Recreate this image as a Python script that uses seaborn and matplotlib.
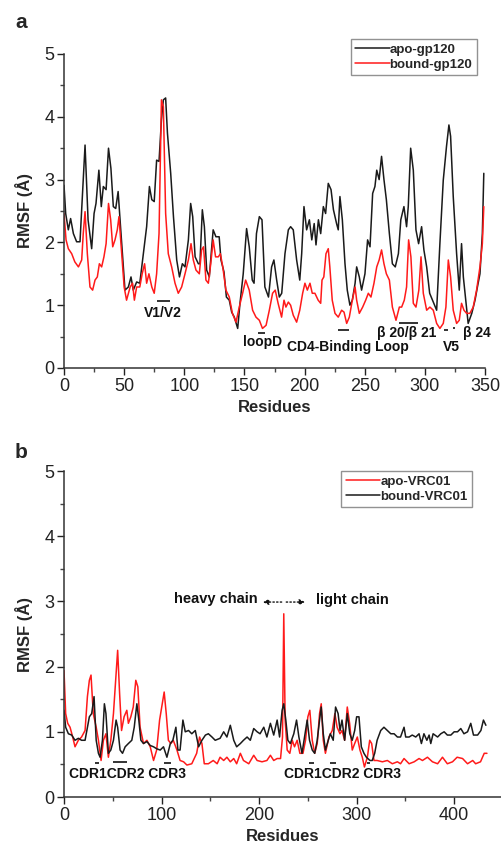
import numpy as np
import pandas as pd
import matplotlib
matplotlib.use("Agg")
import matplotlib.pyplot as plt
import seaborn as sns

# ---------------- data: panel a (gp120) ----------------
apo_gp120_x = [0, 1.4, 3.6, 5.5, 7.8, 10.5, 13.3, 17.5, 20, 23, 25, 26.6, 29, 31, 32.7, 35, 37, 39, 41, 43, 45, 47,
               50.7, 53.5, 55.7, 57.6, 60.4, 63, 66, 68.7, 71, 73, 75, 77, 79, 81, 82.6, 84.5, 86, 88.7, 91, 93.7,
               96, 98.4, 100.6, 103.4, 105.3, 107, 109, 111.7, 113, 115, 116.7, 118.6, 120.8, 124, 126.3, 129,
               130.5, 133, 135, 137.4, 139.4, 141.6, 144.4, 146.3, 149, 151.8, 154, 156.5, 158, 160, 162.4, 164.6,
               167, 170, 172.6, 174.5, 176.8, 179, 181, 183.7, 186.5, 188.4, 190.6, 193.4, 196, 197.6, 199.5, 201.7,
               204, 206, 208, 209.5, 211.5, 213.4, 215.6, 217.5, 219.7, 222, 224, 226.6, 228, 229.4, 231.4, 233.6,
               235.5, 237.7, 239.7, 242, 243.3, 245.5, 247.4, 250.2, 252.4, 254.4, 256.6, 258.5, 260, 262, 264, 266,
               268, 270.5, 273, 275.4, 278, 280, 282.6, 284.8, 286.2, 288.2, 290.4, 292.6, 294.8, 297.3, 299.2,
               301.5, 304, 307, 309.8, 312.5, 315.3, 318, 320, 321.4, 323.6, 326.4, 328.6, 330.5, 332, 334, 336,
               339, 341.7, 343.7, 345.8, 347.8, 349]
apo_gp120_y = [2.91, 2.46, 2.2, 2.38, 2.14, 2.01, 2.01, 3.55, 2.36, 1.9, 2.46, 2.62, 3.15, 2.57, 2.89, 2.84, 3.5, 3.18,
               2.57, 2.54, 2.81, 2.25, 1.24, 1.29, 1.45, 1.24, 1.37, 1.35, 1.82, 2.25, 2.89, 2.68, 2.65, 3.31, 3.29,
               3.95, 4.27, 4.3, 3.74, 3.1, 2.41, 1.72, 1.45, 1.66, 1.61, 2.04, 2.62, 2.41, 1.77, 1.66, 1.66, 2.52,
               2.25, 1.56, 1.45, 2.2, 2.09, 2.09, 1.72, 1.53, 1.13, 1.08, 0.89, 0.81, 0.63, 1.03, 1.5, 2.22, 1.93,
               1.4, 1.35, 2.14, 2.41, 2.36, 1.29, 1.13, 1.61, 1.72, 1.4, 1.13, 1.19, 1.82, 2.2, 2.25, 2.2, 1.72, 1.4,
               1.82, 2.57, 2.2, 2.36, 2.04, 2.3, 1.96, 2.36, 2.14, 2.57, 2.46, 2.94, 2.84, 2.52, 2.3, 2.2, 2.73, 2.36,
               1.66, 1.24, 1.0, 1.08, 1.35, 1.61, 1.45, 1.24, 1.5, 2.04, 1.93, 2.78, 2.89, 3.15, 3.0, 3.37, 3.0,
               2.68, 2.14, 1.66, 1.61, 1.82, 2.36, 2.57, 2.25, 2.57, 3.5, 3.15, 2.2, 1.98, 2.25, 1.88, 1.61, 1.19,
               1.05, 0.92, 1.98, 2.99, 3.53, 3.87, 3.69, 2.73, 1.82, 1.24, 1.98, 1.45, 1.08, 0.71, 0.87, 1.08, 1.29,
               1.5, 2.14, 3.1]

bound_gp120_x = [0, 1.7, 3.6, 6.4, 9, 12, 14.7, 16, 17.5, 19.4, 21.6, 23.8, 25.8, 27.7, 29.4, 31.3, 33.2, 35, 37, 38.8,
                 40.5, 42.4, 44.3, 45.7, 48, 50, 52, 55, 57, 58.5, 60.4, 63, 65, 67, 68.7, 70.6, 73, 75, 77, 79, 81,
                 82.6, 84.5, 86.7, 89.5, 92.3, 95, 97.8, 100.6, 103.4, 105.6, 107.5, 109.7, 112.5, 114.4, 116, 118,
                 120, 122, 124, 126, 128.3, 130, 132, 134.6, 137.4, 140, 143, 145.7, 148.5, 151, 154, 156.8, 159.6,
                 162.4, 165, 168, 170.7, 173.4, 175.6, 178, 180.9, 182.9, 184.5, 186.5, 188.4, 190.6, 193.4, 196,
                 198.4, 200.3, 202.3, 204.5, 206.4, 208.6, 211.3, 213.4, 214.5, 216, 217.8, 219.7, 221, 223, 225.3,
                 228, 230.8, 232.8, 235, 237.2, 239.7, 242, 243.3, 245.5, 248.3, 250.8, 253, 255.2, 257.7, 260, 262,
                 264, 266, 268, 270.5, 273, 276, 278.8, 280.7, 282.9, 284.8, 286.5, 288.4, 290.4, 292.6, 295, 296.8,
                 298.7, 301.5, 304.2, 307, 309.8, 312.5, 315.3, 317.5, 319.5, 321.4, 323.6, 326.4, 328.6, 330.5,
                 332.5, 334.7, 337.4, 340.2, 343, 345.8, 347.8, 349]
bound_gp120_y = [2.46, 2.04, 1.9, 1.82, 1.69, 1.61, 1.72, 2.14, 2.49, 1.82, 1.29, 1.24, 1.4, 1.45, 1.66, 1.61, 1.77,
                 1.98, 2.62, 2.36, 1.93, 2.04, 2.2, 2.41, 1.82, 1.29, 1.08, 1.29, 1.35, 1.08, 1.29, 1.29, 1.5, 1.66,
                 1.35, 1.5, 1.29, 1.19, 1.5, 2.14, 4.27, 4.16, 2.46, 1.82, 1.61, 1.35, 1.19, 1.29, 1.5, 1.72, 1.98,
                 1.72, 1.56, 1.5, 1.88, 1.93, 1.4, 1.35, 1.66, 2.04, 1.77, 1.77, 1.82, 1.61, 1.24, 1.13, 0.87, 0.73,
                 0.97, 1.19, 1.4, 1.24, 0.92, 0.81, 0.76, 0.63, 0.68, 0.92, 1.19, 1.24, 1.03, 0.81, 1.08, 0.97, 1.05,
                 1.0, 0.84, 0.73, 0.92, 1.19, 1.35, 1.24, 1.35, 1.19, 1.19, 1.08, 1.03, 1.4, 1.45, 1.82, 1.9, 1.61,
                 1.08, 0.87, 0.81, 0.92, 0.89, 0.71, 0.81, 1.08, 1.29, 1.08, 0.87, 0.97, 1.08, 1.19, 1.13, 1.35, 1.61,
                 1.72, 1.88, 1.66, 1.5, 1.4, 0.97, 0.76, 0.97, 0.97, 1.08, 1.29, 2.04, 1.77, 1.03, 0.97, 1.24, 1.77,
                 1.19, 0.92, 0.97, 0.92, 0.71, 0.63, 0.71, 0.97, 1.72, 1.45, 0.92, 0.71, 0.76, 1.03, 0.92, 0.87, 0.87,
                 0.97, 1.24, 1.61, 1.98, 2.57]

# ---------------- data: panel b (VRC01) ----------------
apo_vrc01_x = [0, 1.7, 3.8, 6.2, 8.9, 11.3, 14.7, 18, 21.6, 24, 26, 27.7, 30, 33, 35.3, 38, 40.4, 43, 45.5, 48, 50.7,
               53.4, 55, 57, 59, 61.6, 64.4, 66, 68.5, 71, 73.6, 75.7, 78, 81.5, 85, 88.4, 91.8, 95, 98, 100.7, 102.7,
               104.8, 107, 109.6, 112, 115.8, 119, 122.6, 126, 131, 136, 139, 141.4, 143.8, 148, 153, 157, 160,
               163.7, 167, 170.5, 174, 177, 180.8, 184, 189.4, 194.5, 198, 203, 208, 211.6, 215, 218.5, 222, 224,
               225.3, 226.7, 228.8, 231.5, 234, 236.3, 239, 241.8, 245, 247.6, 250, 252, 254.5, 257, 259.6, 262,
               263.7, 265.8, 268, 271.6, 275, 277.7, 280, 282.9, 285, 287.7, 290.4, 292.8, 295.5, 298, 300.7, 303.4,
               305.8, 308, 311, 313.4, 315.4, 317.8, 321, 326.4, 331.5, 336.6, 341.8, 345, 348.6, 353.8, 359, 364,
               367.5, 372.6, 377.7, 383, 388, 393, 398.3, 403, 408.6, 413.7, 419, 422, 427, 430.8, 433.6]
apo_vrc01_y = [1.94, 1.28, 1.13, 1.07, 0.92, 0.77, 0.87, 0.92, 1.02, 1.54, 1.79, 1.87, 1.28, 1.07, 0.87, 0.56, 0.87,
               0.97, 0.61, 0.87, 1.28, 1.89, 2.25, 1.59, 1.02, 1.23, 1.33, 1.13, 1.23, 1.38, 1.79, 1.69, 1.07, 0.82,
               0.87, 0.77, 0.56, 0.72, 1.18, 1.43, 1.61, 1.28, 0.87, 0.82, 0.87, 0.72, 0.56, 0.54, 0.49, 0.51, 0.67,
               0.92, 0.82, 0.51, 0.51, 0.56, 0.51, 0.61, 0.56, 0.61, 0.54, 0.59, 0.51, 0.67, 0.56, 0.51, 0.64, 0.56,
               0.54, 0.56, 0.64, 0.56, 0.59, 0.59, 0.92, 2.81, 1.18, 0.72, 0.67, 0.87, 0.77, 0.87, 0.67, 0.67, 0.87,
               1.23, 1.33, 0.87, 0.67, 0.82, 1.28, 1.43, 0.87, 0.67, 0.92, 1.02, 1.28, 1.07, 0.97, 1.02, 0.87, 1.38,
               1.13, 0.72, 0.82, 0.92, 0.72, 0.61, 0.46, 0.61, 0.87, 0.82, 0.56, 0.56, 0.54, 0.56, 0.51, 0.54, 0.51,
               0.59, 0.51, 0.54, 0.59, 0.56, 0.61, 0.54, 0.51, 0.61, 0.51, 0.54, 0.61, 0.59, 0.51, 0.56, 0.51, 0.54,
               0.67, 0.67]

bound_vrc01_x = [0, 1.7, 4.5, 7.9, 11.3, 14.7, 18, 21.6, 24, 26, 28.4, 30.8, 33, 35.3, 37, 39.4, 41.4, 43, 45.5, 48,
                 50.7, 53.4, 55, 57.5, 60, 62.7, 66, 69.5, 72, 74.7, 76.7, 78.8, 81.5, 85, 88.4, 91.8, 95, 98.6, 102,
                 105.5, 109, 111.6, 114.7, 116.8, 119, 121.9, 124.3, 127.7, 131, 134.6, 138, 141.4, 145, 148, 151.7,
                 155, 160, 163.7, 167, 170.5, 174, 177, 180.8, 184, 187.7, 191, 194.5, 198, 201, 204.8, 208, 211.6,
                 215, 218.5, 221, 223.6, 225.3, 227.4, 229.5, 232, 235.6, 238.4, 240.8, 244, 246.6, 249.3, 251.7,
                 254.5, 257, 259.6, 262, 263.7, 265.8, 268, 270.9, 273, 276, 278.4, 281, 283, 285, 287.7, 290.4, 293,
                 295.5, 298, 300, 302.4, 304.8, 307.5, 310, 313.7, 316, 318.5, 321, 324.7, 328, 331.5, 335, 338.4,
                 341.8, 345, 348.6, 350.3, 353.8, 357, 360.6, 364, 366.4, 369, 372, 374.3, 376, 378.4, 383, 386.3,
                 389.7, 393, 396.6, 400, 403.4, 406.8, 410, 413.7, 417, 419.8, 424, 427.4, 430, 432.5]
bound_vrc01_y = [1.33, 1.07, 0.97, 0.95, 0.87, 0.9, 0.87, 0.87, 1.07, 1.23, 1.28, 1.54, 0.87, 0.67, 0.61, 0.87, 1.43,
                 1.28, 0.67, 0.72, 0.87, 1.18, 1.07, 0.72, 0.67, 0.77, 0.82, 0.87, 1.07, 1.43, 1.18, 0.87, 0.82, 0.85,
                 0.79, 0.77, 0.74, 0.72, 0.77, 0.61, 0.82, 0.87, 1.07, 0.72, 0.72, 1.18, 1.0, 1.02, 0.97, 1.02, 0.77,
                 0.87, 0.95, 0.97, 0.92, 0.87, 0.9, 1.0, 0.92, 1.1, 0.87, 0.77, 0.82, 0.87, 0.92, 0.87, 1.05, 1.0,
                 0.97, 1.07, 0.92, 1.13, 0.95, 1.18, 0.92, 1.33, 1.43, 1.18, 0.87, 0.82, 0.97, 1.18, 0.92, 0.67, 0.92,
                 1.18, 0.87, 0.72, 0.67, 0.87, 1.18, 1.38, 0.97, 0.72, 0.87, 0.97, 0.87, 1.38, 1.28, 1.02, 1.18, 0.87,
                 1.28, 0.97, 0.87, 1.02, 1.23, 1.23, 0.77, 0.67, 0.61, 0.56, 0.56, 0.67, 0.87, 1.02, 1.07, 1.02, 0.97,
                 0.97, 0.92, 0.92, 1.07, 0.92, 0.92, 0.95, 0.92, 0.97, 0.82, 0.97, 0.87, 0.95, 0.82, 0.97, 0.92, 0.97,
                 1.0, 0.95, 0.95, 1.0, 1.0, 1.05, 0.97, 1.0, 1.13, 0.95, 0.95, 1.02, 1.18, 1.1]

labels_a = ["apo-gp120", "bound-gp120"]
labels_b = ["apo-VRC01", "bound-VRC01"]
x_ticks_a = [0, 50, 100, 150, 200, 250, 300, 350]
x_ticks_b = [0, 100, 200, 300, 400]
y_ticks = [0, 1, 2, 3, 4, 5]

df_a = pd.concat([
    pd.DataFrame({"Residues": apo_gp120_x, "RMSF": apo_gp120_y, "series": labels_a[0]}),
    pd.DataFrame({"Residues": bound_gp120_x, "RMSF": bound_gp120_y, "series": labels_a[1]}),
], ignore_index=True)
df_b = pd.concat([
    pd.DataFrame({"Residues": apo_vrc01_x, "RMSF": apo_vrc01_y, "series": labels_b[0]}),
    pd.DataFrame({"Residues": bound_vrc01_x, "RMSF": bound_vrc01_y, "series": labels_b[1]}),
], ignore_index=True)

sns.set_style("ticks")
plt.rcParams["font.family"] = ["Liberation Sans", "DejaVu Sans"]

W, H = 502, 846
fig = plt.figure(figsize=(W / 100, H / 100), dpi=100)
ax_a = fig.add_axes([64 / W, 1 - 368 / H, (485 - 64) / W, (368 - 54) / H])
ax_b = fig.add_axes([64 / W, 1 - 797 / H, (501 - 64) / W, (797 - 471) / H])

sns.lineplot(data=df_a, x="Residues", y="RMSF", hue="series", hue_order=labels_a,
             palette={labels_a[0]: "#1a1a1a", labels_a[1]: "#ff1a1a"}, linewidth=1.1,
             sort=False, ax=ax_a, estimator=None)
sns.lineplot(data=df_b, x="Residues", y="RMSF", hue="series", hue_order=labels_b,
             palette={labels_b[0]: "#ff1a1a", labels_b[1]: "#1a1a1a"}, linewidth=1.1,
             sort=False, ax=ax_b, estimator=None)

for ax, xl, xt, minor in [(ax_a, (0, 350), x_ticks_a, 25), (ax_b, (0, 448), x_ticks_b, 50)]:
    ax.set_xlim(*xl)
    ax.set_ylim(0, 5)
    ax.set_xticks(xt)
    ax.set_yticks(y_ticks)
    ax.set_xticks(np.arange(xl[0] + minor, xl[1] + 1, minor * 2), minor=True)
    ax.set_yticks(np.arange(0.5, 5, 1.0), minor=True)
    ax.tick_params(which="major", direction="out", length=5, width=1, labelsize=13, colors="#222222", pad=2)
    ax.tick_params(which="minor", direction="out", length=3, width=1, colors="#444444")
    for s in ["top", "right"]:
        ax.spines[s].set_visible(False)
    for s in ["left", "bottom"]:
        ax.spines[s].set_color("#333333")
        ax.spines[s].set_linewidth(1.1)
    ax.set_xlabel("Residues", fontsize=12, fontweight="bold", labelpad=4)
    ax.set_ylabel("RMSF (Å)", fontsize=12, fontweight="bold", labelpad=8)

for ax, anchor in [(ax_a, (477 / W, 1 - 39 / H)), (ax_b, (472 / W, 1 - 471 / H))]:
    leg = ax.legend(loc="upper right", bbox_to_anchor=anchor, bbox_transform=fig.transFigure,
                    prop={"weight": "bold", "size": 9.5}, handlelength=2.6, handletextpad=0.0,
                    frameon=True, fancybox=False, borderpad=0.35, labelspacing=0.2,
                    borderaxespad=0)
    leg.get_frame().set_edgecolor("#777777")
    leg.get_frame().set_linewidth(1.0)
    for line in leg.get_lines():
        line.set_linewidth(1.1)

fig.text(15 / W, 1 - 22 / H, "a", fontsize=15, fontweight="bold", va="center", ha="left")
fig.text(15 / W, 1 - 452 / H, "b", fontsize=15, fontweight="bold", va="center", ha="left")

ann = dict(fontsize=10, fontweight="bold", color="#111111")
# panel a annotations
ax_a.text(82, 0.88, "V1/V2", ha="center", va="center", **ann)
ax_a.text(165, 0.41, "loopD", ha="center", va="center", **ann)
ax_a.text(236, 0.33, "CD4-Binding Loop", ha="center", va="center", **ann)
ax_a.text(285, 0.56, "β 20/β 21", ha="center", va="center", **ann)
ax_a.text(343, 0.56, "β 24", ha="center", va="center", **ann)
ax_a.text(322, 0.33, "V5", ha="center", va="center", **ann)
bar_kw = dict(color="#111111", linewidth=1.2)
ax_a.hlines(1.06, 77.5, 88.5, **bar_kw)
ax_a.hlines(0.55, 161.5, 167.5, **bar_kw)
ax_a.hlines(0.61, 227.5, 237, **bar_kw)
ax_a.hlines(0.72, 278.5, 294, **bar_kw)
ax_a.hlines(0.60, 316, 319.5, **bar_kw)
ax_a.hlines(0.63, 323, 325, **bar_kw)

# panel b annotations
ann_b = dict(fontsize=10.5, fontweight="bold", color="#111111")
ax_b.text(198, 3.04, "heavy chain", ha="right", va="center", **ann_b)
ax_b.text(258, 3.02, "light chain", ha="left", va="center", **ann_b)
ax_b.annotate("", xy=(201, 2.99), xytext=(226, 2.99),
              arrowprops=dict(arrowstyle="-|>", linestyle=":", color="#111111", lw=1, mutation_scale=8))
ax_b.annotate("", xy=(250, 2.99), xytext=(225, 2.99),
              arrowprops=dict(arrowstyle="-|>", linestyle=":", color="#111111", lw=1, mutation_scale=8))
ax_b.text(5, 0.35, "CDR1CDR2 CDR3", ha="left", va="center", **ann)
ax_b.text(226, 0.35, "CDR1CDR2 CDR3", ha="left", va="center", **ann)
ax_b.hlines(0.52, 32, 36, **bar_kw)
ax_b.hlines(0.53, 50, 65, **bar_kw)
ax_b.hlines(0.52, 103, 110, **bar_kw)
ax_b.hlines(0.52, 251, 256, **bar_kw)
ax_b.hlines(0.52, 273, 279, **bar_kw)
ax_b.hlines(0.52, 311, 314, **bar_kw)

fig.savefig("out.png", dpi=100)
